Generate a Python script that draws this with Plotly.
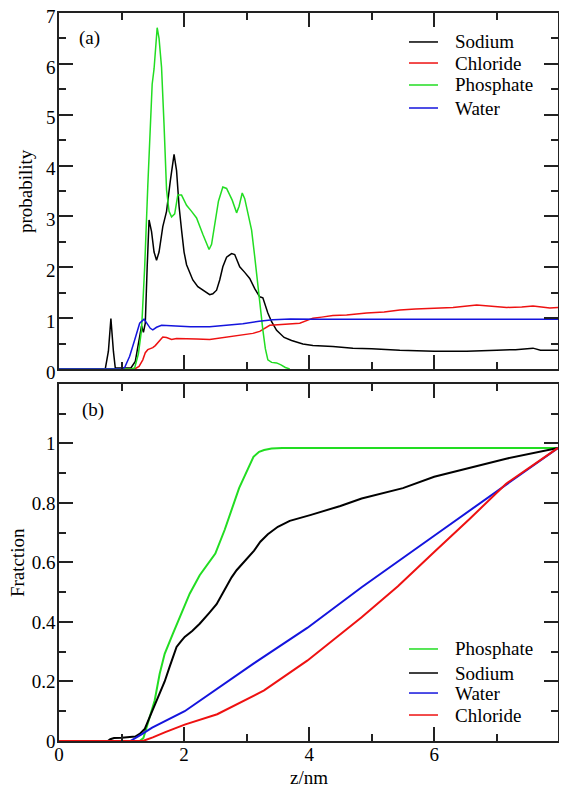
import plotly.graph_objects as go

# ---------------- panel (a): probability ----------------
sodium_z = [0, 0.74, 0.79, 0.83, 0.87, 0.90, 1.0, 1.15, 1.22, 1.28, 1.32, 1.35, 1.38, 1.41, 1.44, 1.48,
            1.52, 1.56, 1.60, 1.66, 1.72, 1.78, 1.84, 1.88, 1.92, 1.96, 2.00, 2.04, 2.10, 2.14, 2.22,
            2.30, 2.36, 2.41, 2.46, 2.52, 2.57, 2.62, 2.68, 2.76, 2.81, 2.85, 2.89, 2.97, 3.05, 3.13,
            3.21, 3.26, 3.30, 3.34, 3.40, 3.48, 3.60, 3.72, 3.90, 4.06, 4.38, 4.70, 5.00, 5.45, 6.00,
            6.52, 7.00, 7.30, 7.58, 7.70, 7.98]
sodium_p = [0, 0, 0.35, 0.99, 0.35, 0.02, 0.02, 0.02, 0.15, 0.55, 0.85, 0.72, 0.9, 2.0, 2.93, 2.7,
            2.3, 2.14, 2.3, 2.8, 3.1, 3.7, 4.22, 3.9, 3.2, 2.73, 2.3, 2.05, 1.85, 1.75, 1.62,
            1.55, 1.50, 1.46, 1.48, 1.55, 1.75, 2.01, 2.2, 2.27, 2.25, 2.12, 2.01, 1.90, 1.78, 1.58,
            1.42, 1.40, 1.25, 1.10, 0.93, 0.76, 0.62, 0.56, 0.49, 0.46, 0.44, 0.41, 0.40, 0.37, 0.35,
            0.35, 0.37, 0.38, 0.41, 0.37, 0.37]

chloride_z = [0, 1.21, 1.28, 1.34, 1.38, 1.42, 1.46, 1.50, 1.54, 1.58, 1.62, 1.66, 1.72, 1.80, 1.88,
              2.0, 2.2, 2.41, 2.6, 2.8, 2.94, 3.1, 3.21, 3.3, 3.37, 3.5, 3.74, 3.85, 4.0, 4.06, 4.2,
              4.38, 4.6, 4.92, 5.2, 5.45, 5.7, 5.98, 6.3, 6.68, 6.9, 7.16, 7.4, 7.58, 7.85, 7.98]
chloride_p = [0, 0, 0.05, 0.18, 0.32, 0.38, 0.40, 0.42, 0.46, 0.51, 0.58, 0.63, 0.62, 0.58, 0.60,
              0.60, 0.59, 0.58, 0.61, 0.64, 0.67, 0.70, 0.74, 0.80, 0.86, 0.87, 0.89, 0.90, 0.97, 1.0, 1.02,
              1.05, 1.06, 1.10, 1.12, 1.16, 1.18, 1.19, 1.21, 1.26, 1.24, 1.21, 1.22, 1.24, 1.20, 1.21]

phosphate_z = [0, 1.15, 1.21, 1.27, 1.32, 1.37, 1.42, 1.46, 1.49, 1.52, 1.57, 1.60, 1.64, 1.68, 1.72,
               1.76, 1.80, 1.85, 1.90, 1.96, 2.04, 2.12, 2.20, 2.30, 2.36, 2.40, 2.44, 2.49, 2.55, 2.62,
               2.68, 2.77, 2.84, 2.88, 2.93, 2.97, 3.00, 3.05, 3.08, 3.13, 3.18, 3.22, 3.26, 3.30, 3.34,
               3.40, 3.48, 3.55, 3.62, 3.69]
phosphate_p = [0, 0, 0.02, 0.3, 0.77, 2.0, 3.6, 4.8, 5.6, 5.9, 6.71, 6.5, 5.93, 4.8, 3.52,
               3.1, 2.99, 3.05, 3.42, 3.42, 3.22, 3.1, 2.97, 2.65, 2.45, 2.35, 2.45, 2.86, 3.3, 3.58,
               3.55, 3.32, 3.07, 3.2, 3.46, 3.35, 3.19, 2.95, 2.73, 2.21, 1.62, 1.15, 0.77, 0.4, 0.18,
               0.13, 0.12, 0.08, 0.03, 0.0]

water_z = [0, 1.00, 1.05, 1.13, 1.21, 1.29, 1.36, 1.41, 1.46, 1.50, 1.56, 1.64, 1.75, 1.88, 2.1,
           2.41, 2.7, 2.94, 3.2, 3.42, 3.7, 4.17, 7.98]
water_p = [0, 0, 0.03, 0.25, 0.57, 0.90, 0.98, 0.90, 0.80, 0.77, 0.82, 0.86, 0.85, 0.85, 0.83,
           0.83, 0.86, 0.89, 0.94, 0.97, 0.985, 0.98, 0.98]

# ---------------- panel (b): cumulative fraction ----------------
phosphate_fz = [0, 1.29, 1.35, 1.45, 1.53, 1.61, 1.69, 1.82, 1.96, 2.09, 2.25, 2.40, 2.50, 2.65, 2.88,
                3.11, 3.20, 3.28, 3.40, 3.57, 7.98]
phosphate_f = [0, 0, 0.01, 0.08, 0.136, 0.226, 0.293, 0.36, 0.428, 0.495, 0.557, 0.60, 0.63, 0.71, 0.85,
               0.955, 0.972, 0.978, 0.983, 0.985, 0.985]

sodium_fz = [0, 0.78, 0.82, 0.88, 1.0, 1.15, 1.22, 1.29, 1.37, 1.45, 1.53, 1.61, 1.69, 1.77, 1.83,
             1.88, 1.95, 2.01, 2.13, 2.25, 2.40, 2.52, 2.60, 2.68, 2.76, 2.84, 2.95, 3.02, 3.12, 3.22,
             3.34, 3.50, 3.69, 4.03, 4.50, 4.84, 5.50, 6.00, 6.50, 7.15, 7.98]
sodium_f = [0, 0, 0.006, 0.01, 0.011, 0.012, 0.015, 0.024, 0.04, 0.08, 0.12, 0.16, 0.20, 0.25, 0.29,
            0.316, 0.335, 0.35, 0.37, 0.394, 0.43, 0.46, 0.49, 0.52, 0.55, 0.574, 0.60, 0.615, 0.64, 0.67,
            0.695, 0.72, 0.74, 0.76, 0.79, 0.815, 0.85, 0.888, 0.915, 0.949, 0.985]

water_fz = [0, 1.14, 1.32, 1.49, 2.01, 3.11, 3.97, 4.84, 6.00, 7.15, 7.98]
water_f = [0, 0, 0.022, 0.045, 0.10, 0.26, 0.38, 0.517, 0.69, 0.86, 0.985]

chloride_fz = [0, 1.34, 1.50, 1.70, 2.01, 2.53, 3.28, 3.97, 4.84, 5.42, 6.00, 6.57, 7.15, 7.98]
chloride_f = [0, 0, 0.012, 0.03, 0.055, 0.09, 0.17, 0.27, 0.416, 0.52, 0.635, 0.747, 0.865, 0.985]

# names / colours / tick labels
top_names = ["Sodium", "Chloride", "Phosphate", "Water"]
bottom_names = ["Phosphate", "Sodium", "Water", "Chloride"]
colors = {"Sodium": "#000000", "Chloride": "#ee1111", "Phosphate": "#22dd22", "Water": "#1414dd"}
top_data = {"Sodium": (sodium_z, sodium_p), "Chloride": (chloride_z, chloride_p),
            "Phosphate": (phosphate_z, phosphate_p), "Water": (water_z, water_p)}
bottom_data = {"Phosphate": (phosphate_fz, phosphate_f), "Sodium": (sodium_fz, sodium_f),
               "Water": (water_fz, water_f), "Chloride": (chloride_fz, chloride_f)}
frac_tickvals = [0, 0.2, 0.4, 0.6, 0.8, 1.0]
frac_ticktext = ["0", "0.2", "0.4", "0.6", "0.8", "1"]
x_max = 7.98

FONT = "Liberation Serif, Times New Roman, Times, serif"
AX = "#222222"

fig = go.Figure()
for n in top_names:
    z, p = top_data[n]
    fig.add_trace(go.Scatter(x=z, y=p, mode="lines", name=n, showlegend=False,
                             line=dict(color=colors[n], width=1.5), xaxis="x", yaxis="y"))
for n in bottom_names:
    z, f = bottom_data[n]
    fig.add_trace(go.Scatter(x=z, y=f, mode="lines", name=n, showlegend=False,
                             line=dict(color=colors[n], width=2), xaxis="x2", yaxis="y2"))

common = dict(showline=True, linecolor=AX, linewidth=1.5, mirror="allticks", ticks="inside",
              ticklen=14, tickwidth=1.5, tickcolor=AX, showgrid=False, zeroline=False,
              automargin=False, ticklabeloverflow="allow",
              tickfont=dict(family=FONT, size=19, color="black"))

# the page body has an 8px margin, so the figure is sized/offset to compensate
fig.update_layout(
    template="none",
    width=559, height=780,
    margin=dict(l=51, r=9, t=5, b=47),
    paper_bgcolor="white", plot_bgcolor="white",
    font=dict(family=FONT, size=19, color="black"),
    xaxis=dict(domain=[0, 1], anchor="y", range=[0, x_max], dtick=2, showticklabels=False,
               minor=dict(dtick=1, ticks="inside", ticklen=7, tickwidth=1.5, tickcolor=AX), **common),
    yaxis=dict(domain=[0.511, 1], anchor="x", range=[0, 7], dtick=1, ticklabelstandoff=-2,
               ticklabelshift=3,
               minor=dict(dtick=0.5, ticks="inside", ticklen=7, tickwidth=1.5, tickcolor=AX), **common),
    xaxis2=dict(domain=[0, 1], anchor="y2", range=[0, x_max], dtick=2, ticklabelstandoff=-5,
                minor=dict(dtick=1, ticks="inside", ticklen=7, tickwidth=1.5, tickcolor=AX), **common),
    yaxis2=dict(domain=[0, 0.4904], anchor="x2", range=[0, 1.2], tickmode="array",
                tickvals=frac_tickvals, ticktext=frac_ticktext, ticklabelstandoff=-2,
                minor=dict(tickmode="array", tickvals=[0.1, 0.3, 0.5, 0.7, 0.9, 1.1],
                           ticks="inside", ticklen=7, tickwidth=1.5, tickcolor=AX), **common),
)

# axis titles
fig.add_annotation(text="probability", xref="paper", yref="y domain", x=-0.066, y=0.5,
                   textangle=-90, xanchor="center", yanchor="middle", showarrow=False,
                   font=dict(family=FONT, size=19))
fig.add_annotation(text="Fratction", xref="paper", yref="y2 domain", x=-0.083, y=0.5,
                   textangle=-90, xanchor="center", yanchor="middle", showarrow=False,
                   font=dict(family=FONT, size=19))
fig.add_annotation(text="z/nm", xref="x2", yref="paper", x=4, y=-0.0495,
                   xanchor="center", yanchor="middle", showarrow=False,
                   font=dict(family=FONT, size=19))

# panel labels
fig.add_annotation(text="(a)", xref="paper", yref="paper", x=0.036, y=0.9657, xanchor="left",
                   yanchor="middle", showarrow=False, font=dict(family=FONT, size=19))
fig.add_annotation(text="(b)", xref="paper", yref="paper", x=0.042, y=0.4547, xanchor="left",
                   yanchor="middle", showarrow=False, font=dict(family=FONT, size=19))

# legends (hand-placed like the original)
top_rows = [0.9602, 0.9313, 0.9011, 0.8695]
bot_rows = [0.1264, 0.0934, 0.0659, 0.0357]
for names, rows in ((top_names, top_rows), (bottom_names, bot_rows)):
    for n, yy in zip(names, rows):
        fig.add_shape(type="line", xref="paper", yref="paper", x0=0.7014, x1=0.7595, y0=yy, y1=yy,
                      line=dict(color=colors[n], width=1.5))
        fig.add_annotation(text=n, xref="paper", yref="paper", x=0.7896, y=yy, xanchor="left",
                           yanchor="middle", showarrow=False, font=dict(family=FONT, size=19))

fig.write_html("out.html")
